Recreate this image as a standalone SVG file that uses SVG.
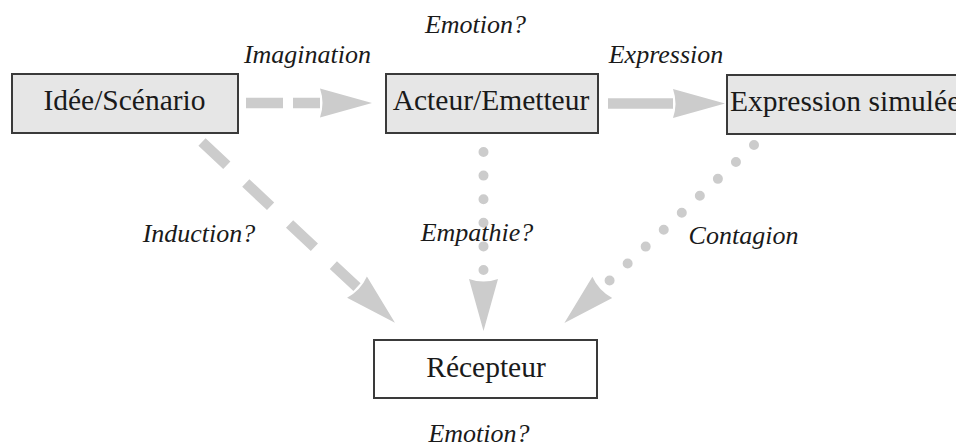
<svg xmlns="http://www.w3.org/2000/svg" width="956" height="448" viewBox="0 0 956 448">
<style>
.box{fill:#e6e6e6;stroke:#3a3a3a;stroke-width:2}
.wbox{fill:#ffffff;stroke:#3a3a3a;stroke-width:2}
.nt{font-family:"Liberation Serif","Times New Roman",serif;font-size:29.5px;fill:#1a1a1a;text-anchor:middle}
.lt{font-family:"Liberation Serif","Times New Roman",serif;font-size:26px;font-style:italic;fill:#1a1a1a;text-anchor:middle}
.conn{fill:none;stroke:#cccccc}
.dash{stroke-width:10.5;stroke-linecap:butt}
.dot{stroke-width:10;stroke-linecap:round}
</style>
<defs>
<marker id="head" markerUnits="userSpaceOnUse" markerWidth="60" markerHeight="40" viewBox="0 -20 60 40" refX="0" refY="0" orient="auto" overflow="visible">
<path d="M0,-14.5 L52,0 L0,14.5 Q5,0 0,-14.5 Z" fill="#cccccc"/>
</marker>
</defs>
<rect width="956" height="448" fill="#ffffff"/>
<g id="connectors">
<path id="c-imagination" class="conn dash" d="M246,103 L320,103" stroke-dasharray="37 10" marker-end="url(#head)"/>
<path id="c-expression" class="conn dash" d="M608,103.5 L673,103.5" marker-end="url(#head)"/>
<path id="c-induction" class="conn dash" d="M202,142 L357,287.2" stroke-dasharray="34 26" marker-end="url(#head)"/>
<path id="c-empathie" class="conn dot" d="M483.5,152 L483.5,279" stroke-dasharray="0 23.6" marker-end="url(#head)"/>
<path id="c-contagion" class="conn dot" d="M754,145 L602.3,287.3" stroke-dasharray="0 24.75" marker-end="url(#head)"/>
</g>
<g id="labels">
<text class="lt" x="475.5" y="33">Emotion?</text>
<text class="lt" x="307.5" y="63">Imagination</text>
<text class="lt" x="666" y="63">Expression</text>
<text class="lt" x="199" y="242">Induction?</text>
<text class="lt" x="477" y="241">Empathie?</text>
<text class="lt" x="743.5" y="244">Contagion</text>
<text class="lt" x="479" y="442">Emotion?</text>
</g>
<g id="node-idee">
<rect class="box" x="12" y="74" width="226" height="59"/>
<text class="nt" x="124.5" y="110">Idée/Scénario</text>
</g>
<g id="node-acteur">
<rect class="box" x="386" y="74" width="212" height="59"/>
<text class="nt" x="491" y="110">Acteur/Emetteur</text>
</g>
<g id="node-expression">
<rect class="box" x="727" y="75" width="245" height="59"/>
<text class="nt" x="730" y="111" style="text-anchor:start">Expression simulée</text>
</g>
<g id="node-recepteur">
<rect class="wbox" x="374" y="340" width="223" height="58"/>
<text class="nt" x="486" y="377">Récepteur</text>
</g>
</svg>
